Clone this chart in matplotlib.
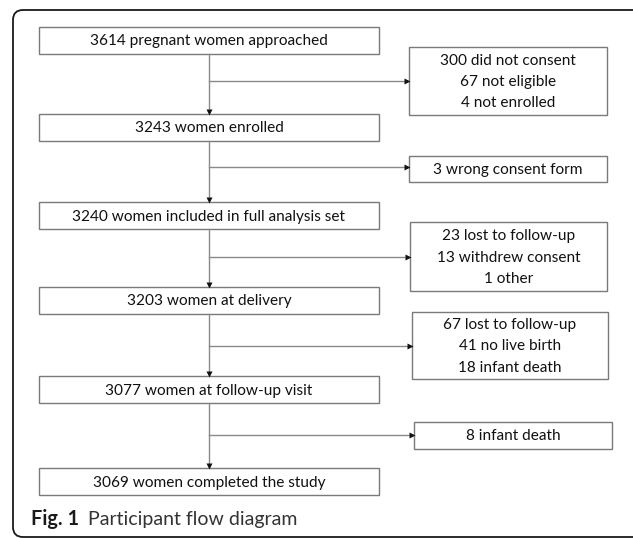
import matplotlib
matplotlib.use("Agg")
from matplotlib import pyplot as plt
from matplotlib.patches import Rectangle, FancyBboxPatch

# flow counts and labels
main_counts = [3614, 3243, 3240, 3203, 3077, 3069]
main_labels = [
    "pregnant women approached",
    "women enrolled",
    "women included in full analysis set",
    "women at delivery",
    "women at follow-up visit",
    "women completed the study",
]
excluded = [
    [(300, "did not consent"), (67, "not eligible"), (4, "not enrolled")],
    [(3, "wrong consent form")],
    [(23, "lost to follow-up"), (13, "withdrew consent"), (1, "other")],
    [(67, "lost to follow-up"), (41, "no live birth"), (18, "infant death")],
    [(8, "infant death")],
]
caption_bold = "Fig. 1"
caption_text = "Participant flow diagram"

# layout in pixels (y down)
W, H = 633, 538
main_x0, main_x1 = 39, 379
main_top = [27, 114, 202, 287, 376, 468]
main_h = 27
side_box = [  # x0, x1, y0, y1, arrow y
    (409, 607, 47, 115, 81),
    (409, 607, 156, 182, 167),
    (410, 607, 222, 291, 257),
    (412, 608, 312, 379, 346),
    (414, 612, 422, 449, 435),
]
stem_x = 209
edge_col = "#7a7a7a"
line_col = "#8a8a8a"
font = ["Lato", "DejaVu Sans"]
fs = 11.1

fig = plt.figure(figsize=(W / 100, H / 100), dpi=100)
ax = fig.add_axes([0, 0, 1, 1])
ax.set_xlim(0, W)
ax.set_ylim(H, 0)
ax.axis("off")

# outer rounded frame
frame = FancyBboxPatch((13, 10), 640, 527, boxstyle="round,pad=0,rounding_size=10",
                       fill=False, ec="#1a1a1a", lw=1.3, clip_on=False)
ax.add_patch(frame)

for i, (n, lab) in enumerate(zip(main_counts, main_labels)):
    y0 = main_top[i]
    ax.add_patch(Rectangle((main_x0, y0), main_x1 - main_x0, main_h, fill=False, ec=edge_col, lw=1.0))
    ax.text((main_x0 + main_x1) / 2, y0 + main_h / 2 + 1, f"{n} {lab}", ha="center", va="center",
            fontsize=fs, family=font, color="#111111")

for i, items in enumerate(excluded):
    x0, x1, y0, y1, ay = side_box[i]
    ax.add_patch(Rectangle((x0, y0), x1 - x0, y1 - y0, fill=False, ec=edge_col, lw=1.0))
    txt = "\n".join(f"{n} {lab}" for n, lab in items)
    ax.text((x0 + x1) / 2, (y0 + y1) / 2 + 1, txt, ha="center", va="center", fontsize=fs,
            family=font, color="#111111", linespacing=1.65)

    # vertical stem to next main box
    ya = main_top[i] + main_h
    yb = main_top[i + 1]
    ax.plot([stem_x, stem_x], [ya, yb - 3], color=line_col, lw=1.0)
    ax.plot(stem_x, yb - 2.5, marker="v", ms=4, color="#111111", mec="none")
    # branch to exclusion box
    ax.plot([stem_x, x0 - 3], [ay, ay], color=line_col, lw=1.0)
    ax.plot(x0 - 2.5, ay, marker=">", ms=4, color="#111111", mec="none")

ax.text(31, 519, caption_bold, ha="left", va="center", fontsize=14.3, fontweight="bold",
        family=font, color="#1a1a1a")
ax.text(88, 519, caption_text, ha="left", va="center", fontsize=14.0, fontweight="normal",
        family=font, color="#333333")

fig.savefig("out.png", dpi=100)
